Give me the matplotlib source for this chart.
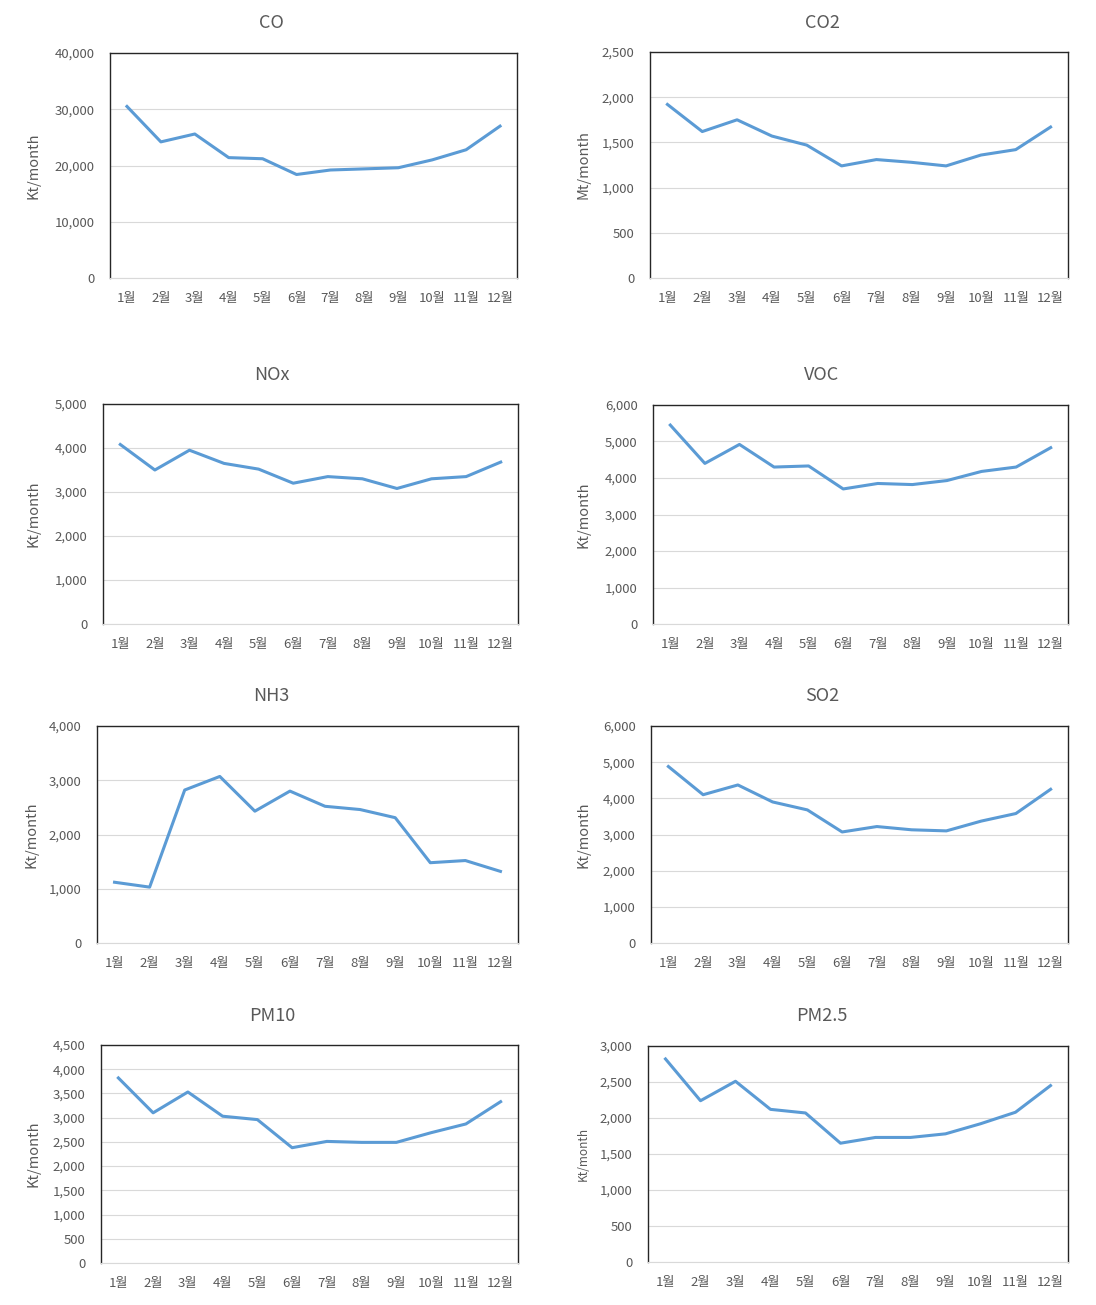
import matplotlib
matplotlib.use("Agg")
import matplotlib.pyplot as plt
import matplotlib.transforms as mtransforms
from matplotlib.ticker import FuncFormatter, MultipleLocator

plt.rcParams["font.family"] = ["Noto Sans CJK KR", "DejaVu Sans"]

months = ["1월", "2월", "3월", "4월", "5월", "6월", "7월", "8월", "9월", "10월", "11월", "12월"]

co = [30500, 24200, 25600, 21400, 21200, 18400, 19200, 19400, 19600, 21000, 22800, 27000]
co2 = [1920, 1620, 1750, 1570, 1470, 1240, 1310, 1280, 1240, 1360, 1420, 1670]
nox = [4080, 3500, 3950, 3650, 3520, 3200, 3350, 3300, 3080, 3300, 3350, 3680]
voc = [5450, 4400, 4920, 4300, 4330, 3700, 3850, 3820, 3930, 4180, 4300, 4830]
nh3 = [1120, 1030, 2820, 3070, 2430, 2800, 2520, 2460, 2310, 1480, 1520, 1320]
so2 = [4880, 4100, 4370, 3900, 3680, 3070, 3220, 3130, 3100, 3370, 3580, 4250]
pm10 = [3820, 3100, 3530, 3030, 2960, 2380, 2510, 2490, 2490, 2690, 2870, 3330]
pm25 = [2820, 2240, 2510, 2120, 2070, 1650, 1730, 1730, 1780, 1920, 2080, 2450]

W, H = 1096, 1305

# title, values, unit, ymax, ystep, plot box (px: left, top, right, bottom),
# title centre (px), ylabel x (px), ylabel size
panels = [
    ("CO", co, "Kt/month", 40000, 10000, (110, 53, 517, 278), (271, 23), 40, 10.5),
    ("CO2", co2, "Mt/month", 2500, 500, (650, 52, 1068, 278), (822, 23), 590, 10.5),
    ("NOx", nox, "Kt/month", 5000, 1000, (103, 404, 518, 624), (272, 375), 40, 10.5),
    ("VOC", voc, "Kt/month", 6000, 1000, (653, 405, 1068, 624), (822, 375), 590, 10.5),
    ("NH3", nh3, "Kt/month", 4000, 1000, (97, 726, 518, 943), (271, 696), 38, 10.5),
    ("SO2", so2, "Kt/month", 6000, 1000, (651, 726, 1068, 943), (822, 696), 590, 10.5),
    ("PM10", pm10, "Kt/month", 4500, 500, (101, 1045, 518, 1263), (272, 1016), 40, 10.5),
    ("PM2.5", pm25, "Kt/month", 3000, 500, (648, 1046, 1068, 1262), (822, 1016), 590, 8.5),
]

text_col = "#595959"
line_col = "#5B9BD5"
grid_col = "#D9D9D9"

fig = plt.figure(figsize=(W / 100, H / 100), dpi=100)

for title, vals, unit, ymax, ystep, box, tpos, ylx, yls in panels:
    l, t, r, b = box
    ax = fig.add_axes([l / W, 1 - b / H, (r - l) / W, (b - t) / H])
    x = list(range(len(months)))
    ax.plot(x, vals, color=line_col, linewidth=2.2, solid_joinstyle="round")
    ax.set_xlim(-0.5, len(months) - 0.5)
    ax.set_ylim(0, ymax)
    ax.yaxis.set_major_locator(MultipleLocator(ystep))
    ax.yaxis.set_major_formatter(FuncFormatter(lambda v, p: f"{int(v):,}"))
    ax.set_xticks(x)
    ax.set_xticklabels(months)
    ax.tick_params(axis="both", length=0, labelsize=9.5, colors=text_col)
    ax.tick_params(axis="y", pad=11)
    ax.tick_params(axis="x", pad=10)
    ax.grid(axis="y", color=grid_col, linewidth=0.8)
    ax.set_axisbelow(True)
    for side in ("left", "top", "right"):
        ax.spines[side].set_color("#262626")
        ax.spines[side].set_linewidth(1.0)
    ax.spines["bottom"].set_color(grid_col)
    ax.spines["bottom"].set_linewidth(0.8)
    fig.text(tpos[0] / W, 1 - tpos[1] / H, title, fontsize=13, color=text_col,
             ha="center", va="center")
    ax.set_ylabel(unit, fontsize=yls, color=text_col)
    trans = mtransforms.blended_transform_factory(fig.transFigure, ax.transAxes)
    ax.yaxis.set_label_coords(ylx / W, 0.5, transform=trans)

fig.savefig("out.png", dpi=100, facecolor="white")
